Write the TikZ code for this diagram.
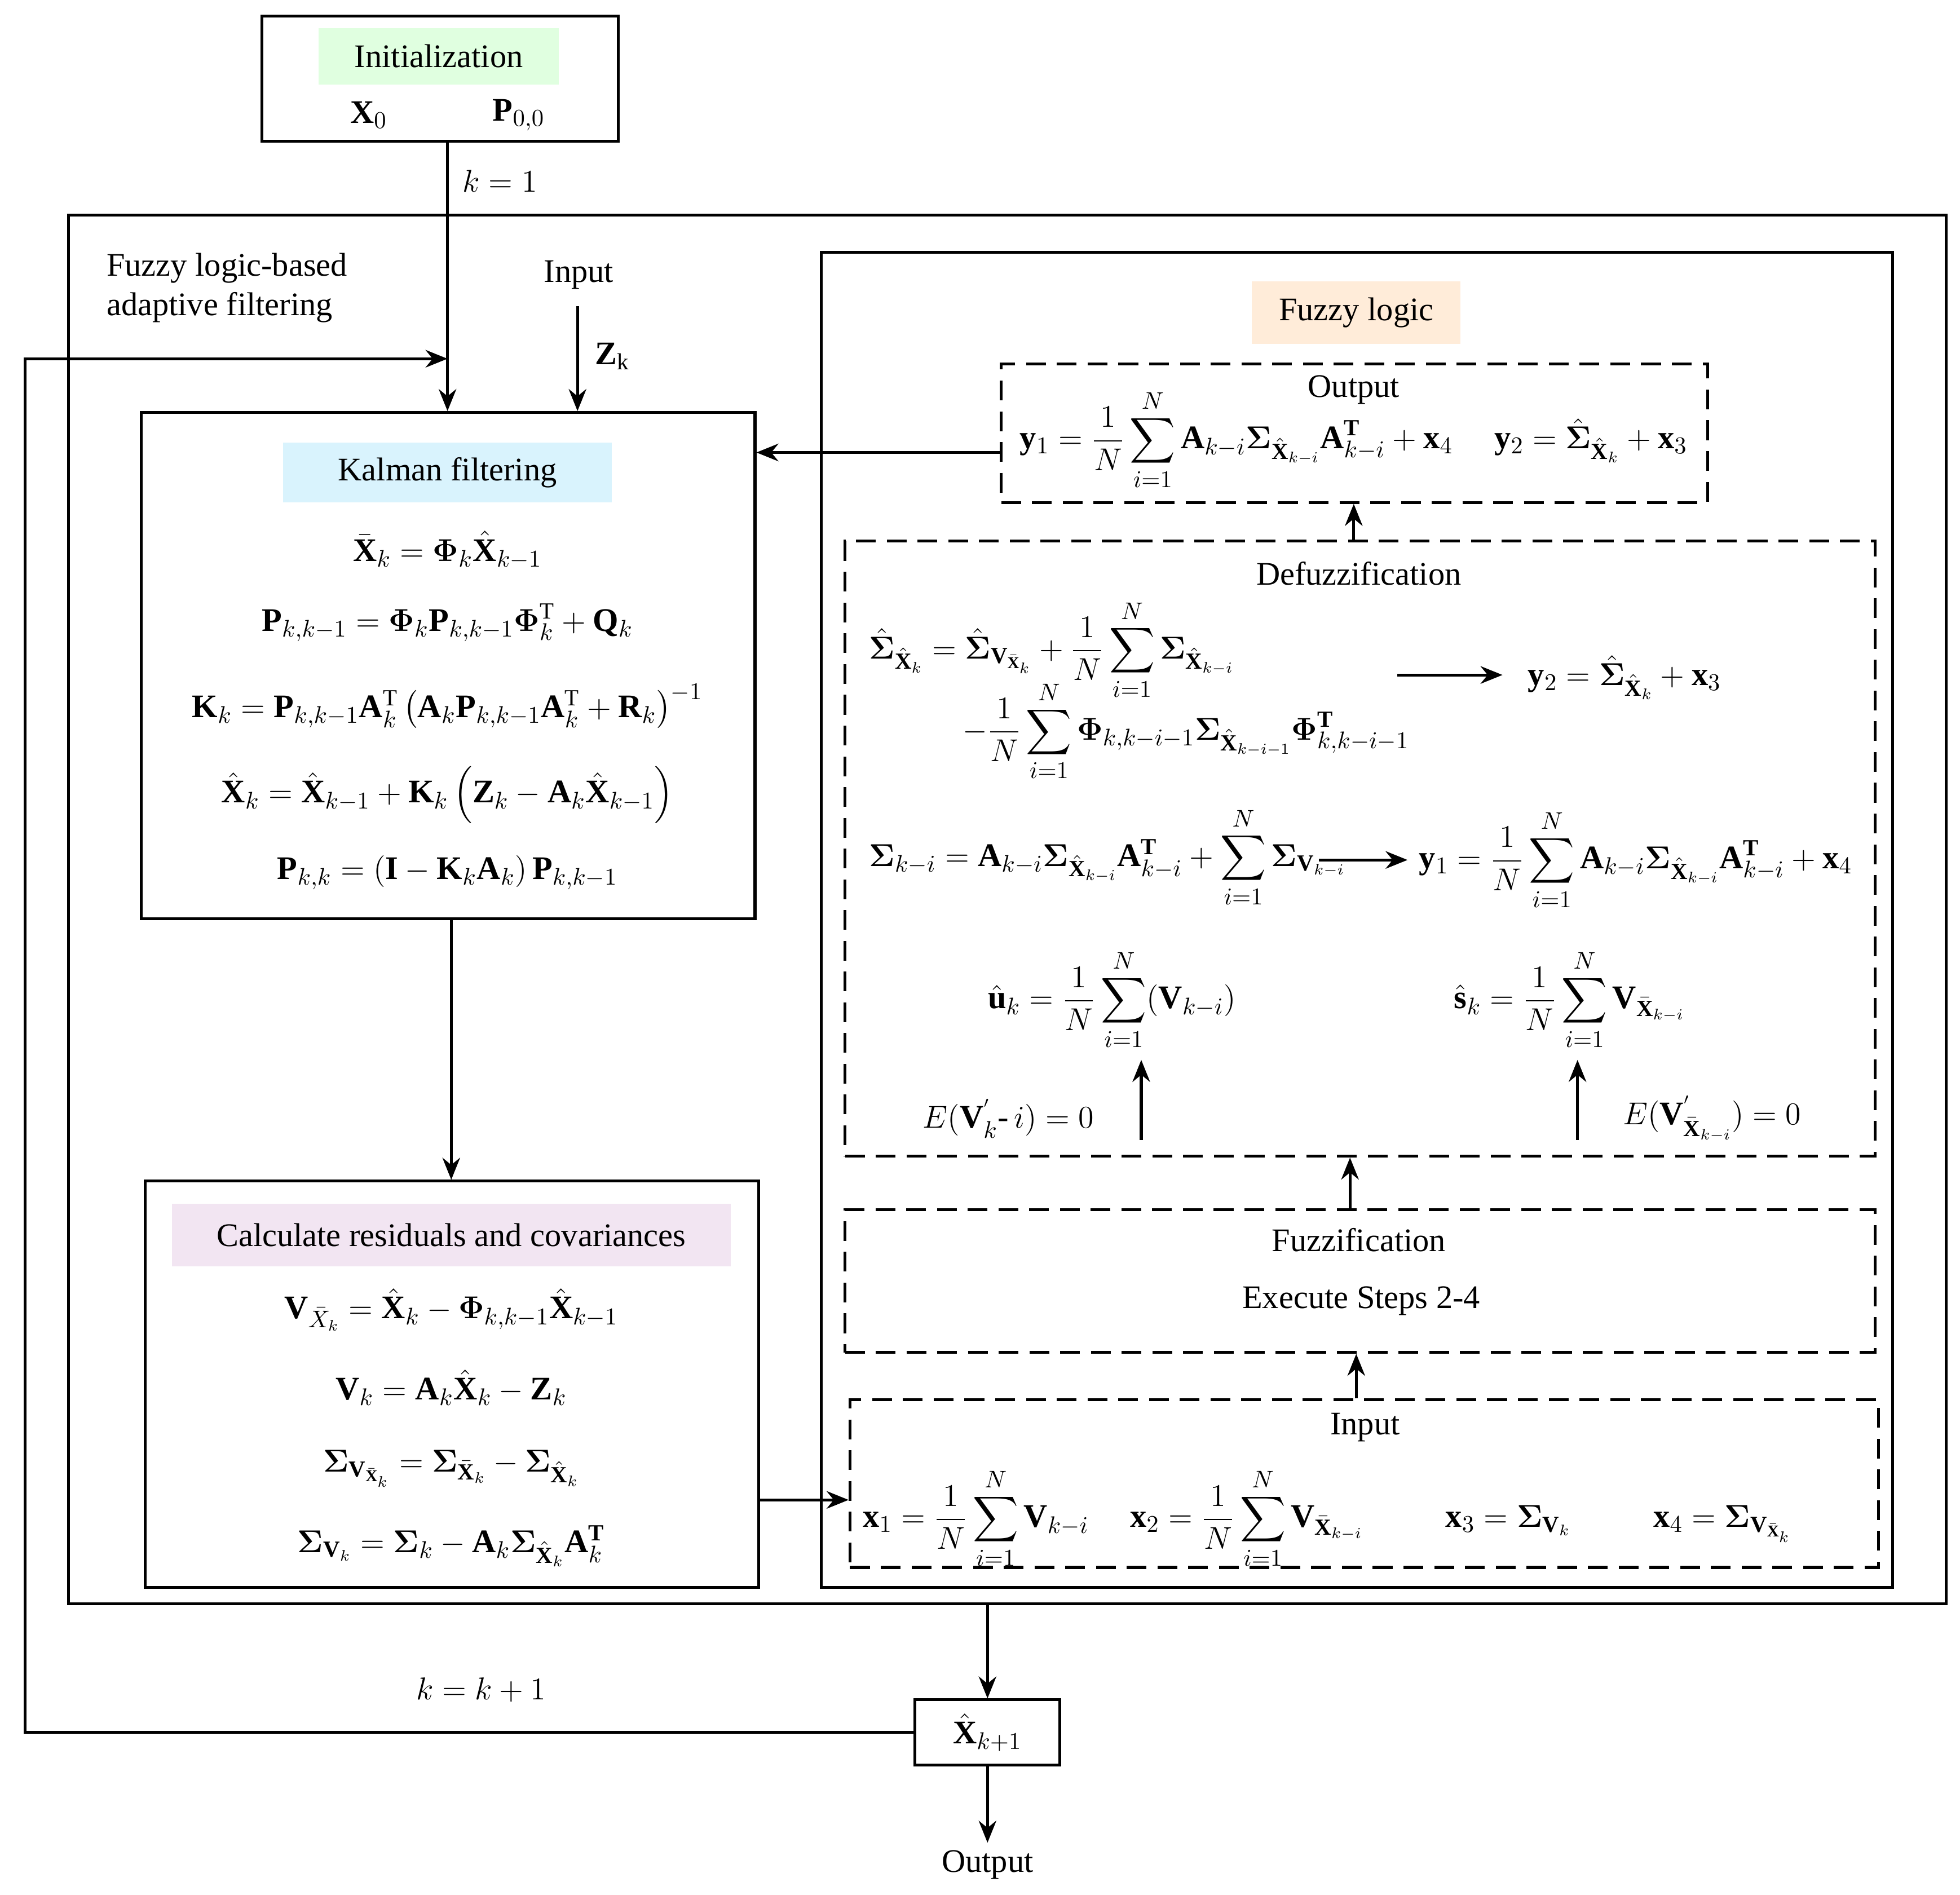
\documentclass[tikz,border=0pt]{standalone}
\usepackage{amsmath,bm}
\usepackage{fontspec}
\setmainfont{Liberation Serif}
\usetikzlibrary{arrows.meta}
\newcommand{\hX}{\hat{\mathbf{X}}}
\newcommand{\bX}{\bar{\mathbf{X}}}
\newcommand{\bS}{\bm{\Sigma}}
\newcommand{\bP}{\bm{\Phi}}
\begin{document}
\begin{tikzpicture}[x=0.02cm,y=-0.02cm,
  every node/.style={font=\fontsize{15}{18}\selectfont},
  box/.style={draw,line width=1.3pt},
  dbox/.style={draw,line width=1.3pt,dash pattern=on 9pt off 5pt},
  arr/.style={line width=1.3pt,-{Stealth[length=10pt,width=8pt]}},
  ln/.style={line width=1.3pt},
  eq/.style={inner sep=0pt}]
\useasboundingbox (0,0) rectangle (1568,1516);
% init
\node[box,minimum width=285*0.02cm,minimum height=100*0.02cm] (init) at (352,63) {};
\node[fill=green!12!white,minimum width=192*0.02cm,minimum height=45*0.02cm] (initl) at (351,45) {Initialization};
\node (x0) at (295,92) {$\mathbf{X}_0$};
\node (p0) at (415,92) {$\mathbf{P}_{0,0}$};
\node (k1) at (400,145) {$k=1$};
% outer
\node[box,minimum width=1502*0.02cm,minimum height=1111*0.02cm] (outer) at (806,727.5) {};
\node[align=left,anchor=north west,inner sep=0pt] (fl) at (85,202) {Fuzzy logic-based\\adaptive filtering};
\node (inp) at (463,220) {Input};
\coordinate (inpa) at (462,245);
\node (zk) at (490,285) {$\mathbf{Z}_{\mathrm{k}}$};
% kalman
\node[box,minimum width=491*0.02cm,minimum height=405*0.02cm] (kal) at (358.5,532.5) {};
\node[fill=cyan!15!white,minimum width=263*0.02cm,minimum height=48*0.02cm] (kall) at (358,378) {Kalman filtering};
\node[eq] (k_e1) at (358,440) {$\bX_k=\bP_k\hX_{k-1}$};
\node[eq] (k_e2) at (358,498) {$\mathbf{P}_{k,k-1}=\bP_k\mathbf{P}_{k,k-1}\bP_k^{\mathrm{T}}+\mathbf{Q}_k$};
\node[eq] (k_e3) at (358,565) {$\mathbf{K}_k=\mathbf{P}_{k,k-1}\mathbf{A}_k^{\mathrm{T}}\left(\mathbf{A}_k\mathbf{P}_{k,k-1}\mathbf{A}_k^{\mathrm{T}}+\mathbf{R}_k\right)^{-1}$};
\node[eq] (k_e4) at (358,636) {$\hX_k=\hX_{k-1}+\mathbf{K}_k\left(\mathbf{Z}_k-\mathbf{A}_k\hX_{k-1}\right)$};
\node[eq] (k_e5) at (358,698) {$\mathbf{P}_{k,k}=\left(\mathbf{I}-\mathbf{K}_k\mathbf{A}_k\right)\mathbf{P}_{k,k-1}$};
% residuals
\node[box,minimum width=491*0.02cm,minimum height=325*0.02cm] (res) at (361.5,1107.5) {};
\node[fill=violet!10!white,minimum width=447*0.02cm,minimum height=50*0.02cm] (resl) at (361,988) {Calculate residuals and covariances};
\node[eq] (r1) at (361,1048) {$\mathbf{V}_{\bar{X}_k}=\hX_k-\bP_{k,k-1}\hX_{k-1}$};
\node[eq] (r2) at (361,1110) {$\mathbf{V}_k=\mathbf{A}_k\hX_k-\mathbf{Z}_k$};
\node[eq] (r3) at (361,1175) {$\bS_{\mathbf{V}_{\bX_k}}=\bS_{\bX_k}-\bS_{\hX_k}$};
\node[eq] (r4) at (361,1237) {$\bS_{\mathbf{V}_k}=\bS_k-\mathbf{A}_k\bS_{\hX_k}\mathbf{A}_k^{\mathbf{T}}$};
% fuzzy right
\node[box,minimum width=857*0.02cm,minimum height=1068*0.02cm] (fz) at (1085.5,736) {};
\node[fill=orange!15!white,minimum width=167*0.02cm,minimum height=50*0.02cm] (fzl) at (1085,250) {Fuzzy logic};
\node[dbox,minimum width=565*0.02cm,minimum height=111*0.02cm] (out) at (1083.5,346.5) {};
\node (outt) at (1083,312) {Output};
\node[eq] (oute) at (1083,352) {$\mathbf{y}_1=\dfrac{1}{N}\displaystyle\sum_{i=1}^{N}\mathbf{A}_{k-i}\bS_{\hX_{k-i}}\mathbf{A}_{k-i}^{\mathbf{T}}+\mathbf{x}_4\quad\ \mathbf{y}_2=\hat{\bS}_{\hX_k}+\mathbf{x}_3$};
\node[dbox,minimum width=824*0.02cm,minimum height=492*0.02cm] (def) at (1088,679) {};
\node (deft) at (1087,459) {Defuzzification};
\node[eq,anchor=west] (d1) at (695,520) {$\hat{\bS}_{\hX_k}=\hat{\bS}_{\mathbf{V}_{\bX_k}}+\dfrac{1}{N}\displaystyle\sum_{i=1}^{N}\bS_{\hX_{k-i}}$};
\node[eq,anchor=west] (d2) at (770,585) {$-\dfrac{1}{N}\displaystyle\sum_{i=1}^{N}\bP_{k,k-i-1}\bS_{\hX_{k-i-1}}\bP_{k,k-i-1}^{\mathbf{T}}$};
\coordinate (d1a) at (1118,540);
\coordinate (d1b) at (1202,540);
\node[eq,anchor=west] (d3) at (1222,542) {$\mathbf{y}_2=\hat{\bS}_{\hX_k}+\mathbf{x}_3$};
\node[eq,anchor=west] (d4) at (695,686) {$\bS_{k-i}=\mathbf{A}_{k-i}\bS_{\hX_{k-i}}\mathbf{A}_{k-i}^{\mathbf{T}}+\displaystyle\sum_{i=1}^{N}\bS_{\mathbf{V}_{k-i}}$};
\coordinate (d4a) at (1055,688);
\coordinate (d4b) at (1126,688);
\node[eq,anchor=west] (d5) at (1135,688) {$\mathbf{y}_1=\dfrac{1}{N}\displaystyle\sum_{i=1}^{N}\mathbf{A}_{k-i}\bS_{\hX_{k-i}}\mathbf{A}_{k-i}^{\mathbf{T}}+\mathbf{x}_4$};
\node[eq,anchor=west] (d6) at (790,800) {$\hat{\mathbf{u}}_k=\dfrac{1}{N}\displaystyle\sum_{i=1}^{N}(\mathbf{V}_{k-i})$};
\node[eq,anchor=west] (d7) at (1163,800) {$\hat{\mathbf{s}}_k=\dfrac{1}{N}\displaystyle\sum_{i=1}^{N}\mathbf{V}_{\bX_{k-i}}$};
\node[eq,anchor=west] (d8) at (738,895) {$E(\mathbf{V}_k^{'}\text{-}\,i)=0$};
\coordinate (d8a) at (913,912);
\coordinate (d8b) at (913,848);
\coordinate (d9a) at (1262,912);
\coordinate (d9b) at (1262,848);
\node[eq,anchor=west] (d9) at (1298,895) {$E(\mathbf{V}_{\bX_{k-i}}^{'})=0$};
\node[dbox,minimum width=824*0.02cm,minimum height=114*0.02cm] (fuz) at (1088,1025) {};
\node (fuzt) at (1087,992) {Fuzzification};
\node (fuzs) at (1089,1041) {Execute Steps 2-4};
\node[dbox,minimum width=823*0.02cm,minimum height=134*0.02cm] (in) at (1091.5,1187) {};
\node (int) at (1092,1142) {Input};
\node[eq,anchor=west] (ine) at (690,1215) {$\mathbf{x}_1=\dfrac{1}{N}\displaystyle\sum_{i=1}^{N}\mathbf{V}_{k-i}\quad\ \mathbf{x}_2=\dfrac{1}{N}\displaystyle\sum_{i=1}^{N}\mathbf{V}_{\bX_{k-i}}\qquad\ \ \mathbf{x}_3=\bS_{\mathbf{V}_k}\qquad\ \ \mathbf{x}_4=\bS_{\mathbf{V}_{\bX_k}}$};
% output
\node[box,minimum width=116*0.02cm,minimum height=52*0.02cm] (xk1) at (790,1386) {$\hX_{k+1}$};
\node (outp) at (790,1492) {Output};
\node (kk1) at (385,1352) {$k=k+1$};
% connectors
\draw[arr] (init.south -| 358,0) -- (kal.north -| 358,0);
\draw[arr] (inpa) -- (kal.north -| inpa);
\draw[arr] (xk1.west) -- (20,1386) -- (20,287) -- (358,287);
\draw[arr] (out.west |- 0,362) -- (kal.east |- 0,362);
\draw[arr] (kal.south -| 361,0) -- (res.north -| 361,0);
\draw[arr] (res.east |- 0,1200) -- (in.west |- 0,1200);
\draw[arr] (def.north -| 1083,0) -- (out.south -| 1083,0);
\draw[arr] (fuz.north -| 1080,0) -- (def.south -| 1080,0);
\draw[arr] (in.north -| 1085,0) -- (fuz.south -| 1085,0);
\draw[arr] (d1a) -- (d1b);
\draw[arr] (d4a) -- (d4b);
\draw[arr] (d8a) -- (d8b);
\draw[arr] (d9a) -- (d9b);
\draw[arr] (outer.south -| xk1.north) -- (xk1.north);
\draw[arr] (xk1.south) -- (outp.north);
\end{tikzpicture}
\end{document}
